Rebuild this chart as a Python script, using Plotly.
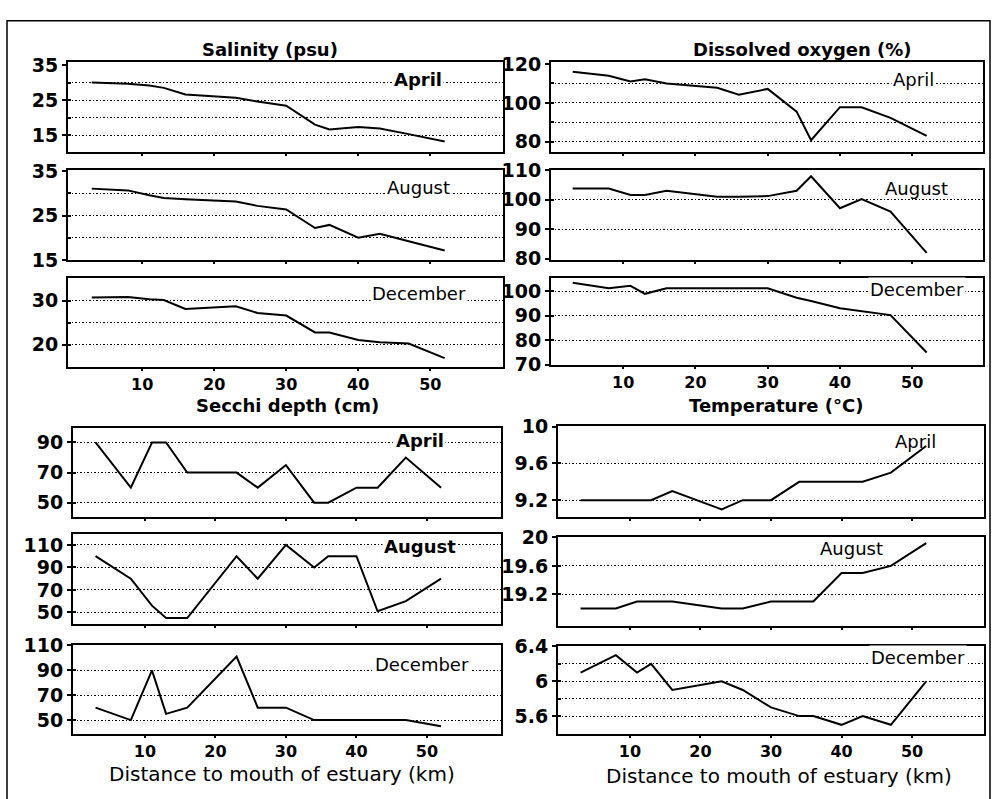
import plotly.graph_objects as go

# ---------------- data ----------------
stations = [3, 8, 11, 13, 16, 23, 26, 30, 34, 36, 40, 43, 47, 52]

sal_apr = [30.0, 29.7, 29.2, 28.5, 26.6, 25.7, 24.6, 23.4, 18.0, 16.6, 17.3, 16.9, 15.3, 13.2]
sal_aug = [31.1, 30.7, 29.6, 29.0, 28.7, 28.2, 27.2, 26.4, 22.2, 22.9, 20.0, 20.9, 19.2, 17.1]
sal_dec = [30.7, 30.8, 30.3, 30.1, 28.1, 28.7, 27.2, 26.6, 22.8, 22.8, 21.1, 20.6, 20.3, 17.0]

do_apr = [116.0, 114.0, 111.0, 112.2, 110.0, 107.8, 104.2, 107.2, 95.5, 80.8, 97.8, 97.7, 92.3, 83.0]
do_aug = [103.8, 103.8, 101.6, 101.6, 103.0, 101.0, 101.0, 101.2, 103.0, 107.9, 97.1, 100.2, 96.0, 82.0]
do_dec = [103.5, 101.3, 102.3, 99.0, 101.3, 101.3, 101.3, 101.3, 97.4, 96.1, 93.1, 92.0, 90.3, 75.0]

secchi_apr = [90, 60, 90, 90, 70, 70, 60, 75, 50, 50, 60, 60, 80, 60]
secchi_aug = [100, 80, 56, 45, 45, 100, 80, 110, 90, 100, 100, 51, 60, 80]
secchi_dec = [60, 50, 90, 55, 60, 101, 60, 60, 50, 50, 50, 50, 50, 45]

temp_apr = [9.2, 9.2, 9.2, 9.2, 9.3, 9.1, 9.2, 9.2, 9.4, 9.4, 9.4, 9.4, 9.5, 9.79]
temp_aug = [19.0, 19.0, 19.1, 19.1, 19.1, 19.0, 19.0, 19.1, 19.1, 19.1, 19.5, 19.5, 19.6, 19.92]
temp_dec = [6.1, 6.3, 6.1, 6.2, 5.9, 6.0, 5.9, 5.7, 5.6, 5.6, 5.5, 5.6, 5.5, 6.0]

months = ["April", "August", "December"]
x_ticks = [10, 20, 30, 40, 50]
x_title = "Distance to mouth of estuary (km)"

group_titles = ["Salinity (psu)", "Dissolved oxygen (%)", "Secchi depth (cm)", "Temperature (°C)"]

# y tick labels / grid lines per panel
sal_labels = [[35, 25, 15], [35, 25, 15], [30, 20]]
sal_grid = [[30, 25, 20, 15], [30, 25, 20], [30, 25, 20]]
do_labels = [[120, 100, 80], [110, 100, 90, 80], [100, 90, 80, 70]]
do_grid = [[110, 100, 90, 80], [100, 90], [100, 90, 80]]
secchi_labels = [[90, 70, 50], [110, 90, 70, 50], [110, 90, 70, 50]]
secchi_grid = [[90, 70, 50], [110, 90, 70, 50], [90, 70, 50]]
temp_labels = [[10, 9.6, 9.2], [20, 19.6, 19.2], [6.4, 6, 5.6]]
temp_grid = [[9.6, 9.2], [19.6, 19.2], [6.2, 6.0, 5.8, 5.6]]
temp_ticktext = [["10", "9.6", "9.2"], ["20", "19.6", "19.2"], ["6.4", "6", "5.6"]]

# ---------------- layout geometry (pixels) ----------------
W, H = 997, 799
def fx(p): return p / W
def fy(p): return 1 - p / H

groups = [
    dict(values=[sal_apr, sal_aug, sal_dec], labels=sal_labels, grid=sal_grid, ticktext=None,
         yr=[[10.2, 36.0], [14.98, 35.2], [15.0, 35.0]],
         x=(68, 503), rows=[(52, 145), (164, 256), (275, 366)], xr=[-0.3, 60.1],
         mpos=[(418, 70), (418, 181), (419, 290)], mbg=[True, True, True],
         mbold=[True, False, False], title=(270, 40)),
    dict(values=[do_apr, do_aug, do_dec], labels=do_labels, grid=do_grid, ticktext=None,
         yr=[[74.7, 121.3], [79.6, 110.2], [69.9, 105.3]],
         x=(551, 983), rows=[(52, 145), (163, 256), (275, 364)], xr=[0, 59.8],
         mpos=[(913, 70), (916, 183), (917, 286)], mbg=[True, False, True],
         mbold=[False, False, False], title=(802, 40)),
    dict(values=[secchi_apr, secchi_aug, secchi_dec], labels=secchi_labels, grid=secchi_grid, ticktext=None,
         yr=[[40.7, 99.5], [40.0, 119.6], [39.2, 110.3]],
         x=(73, 501), rows=[(429, 520), (538, 630), (652, 743)], xr=[-0.2, 60.5],
         mpos=[(420, 442), (420, 551), (422, 672)], mbg=[True, True, True],
         mbold=[True, True, False], title=(287, 406)),
    dict(values=[temp_apr, temp_aug, temp_dec], labels=temp_labels, grid=temp_grid, ticktext=temp_ticktext,
         yr=[[9.02, 10.005], [18.76, 20.005], [5.4, 6.405]],
         x=(558, 984), rows=[(427, 520), (541, 632), (653, 743)], xr=[-0.2, 60.2],
         mpos=[(915, 443), (851, 553), (918, 665)], mbg=[False, False, True],
         mbold=[False, False, False], title=(776, 406)),
]

FONT = "DejaVu Sans"
GRID_DASH = "1.5px,2px"
fig = go.Figure()
layout = dict(width=W, height=H, margin=dict(l=0, r=0, t=0, b=0),
              paper_bgcolor="white", plot_bgcolor="white", showlegend=False)
annotations = []

idx = 0
for gi, g in enumerate(groups):
    for r in range(3):
        idx += 1
        xs = "" if idx == 1 else str(idx)
        fig.add_trace(go.Scatter(x=stations, y=g["values"][r], mode="lines",
                                 line=dict(color="black", width=2),
                                 xaxis="x" + xs, yaxis="y" + xs, hoverinfo="skip"))
        top, bot = g["rows"][r]
        layout["xaxis" + xs] = dict(
            domain=[fx(g["x"][0]), fx(g["x"][1])], anchor="y" + xs, range=g["xr"],
            tickmode="array", tickvals=x_ticks, ticks="outside", ticklen=2, tickwidth=1.5,
            tickcolor="black", showticklabels=(r == 2), showline=True, mirror=True,
            linecolor="black", linewidth=2, showgrid=False, zeroline=False,
            tickfont=dict(family=FONT, size=16, color="black", weight="bold"))
        yax = dict(
            domain=[fy(bot), fy(top)], anchor="x" + xs, range=g["yr"][r],
            tickmode="array", tickvals=g["labels"][r], ticks="outside", ticklen=4,
            tickwidth=1.5, tickcolor="black", showline=True, mirror=True,
            linecolor="black", linewidth=2, showgrid=False, zeroline=False,
            tickfont=dict(family=FONT, size=19, color="black", weight="bold"),
            minor=dict(tickmode="array", tickvals=g["grid"][r], showgrid=True,
                       gridcolor="black", griddash=GRID_DASH, gridwidth=1.4,
                       ticks="inside", ticklen=3, tickcolor="black"))
        if g["ticktext"] is not None:
            yax["ticktext"] = g["ticktext"][r]
        layout["yaxis" + xs] = yax
        mx, my = g["mpos"][r]
        annotations.append(dict(
            text=months[r], x=fx(mx), y=fy(my), xref="paper", yref="paper",
            showarrow=False, xanchor="center", yanchor="middle",
            bgcolor="white" if g["mbg"][r] else None, borderpad=1,
            font=dict(family=FONT, size=18, color="black",
                      weight="bold" if g["mbold"][r] else "normal")))
    tx, ty = g["title"]
    annotations.append(dict(text=group_titles[gi], x=fx(tx), y=fy(ty), xref="paper",
                            yref="paper", showarrow=False, xanchor="center", yanchor="middle",
                            font=dict(family=FONT, size=18, color="black", weight="bold")))

for (ax_x, ax_y) in [(282, 785), (779, 787)]:
    annotations.append(dict(text=x_title, x=fx(ax_x), y=fy(ax_y), xref="paper", yref="paper",
                            showarrow=False, xanchor="center", yanchor="middle",
                            font=dict(family=FONT, size=20, color="black")))

layout["annotations"] = annotations
layout["shapes"] = [dict(type="rect", xref="paper", yref="paper",
                         x0=fx(7), x1=fx(990), y0=-0.02, y1=fy(10),
                         line=dict(color="black", width=1.5))]
fig.update_layout(**layout)
fig.write_html("out.html")
